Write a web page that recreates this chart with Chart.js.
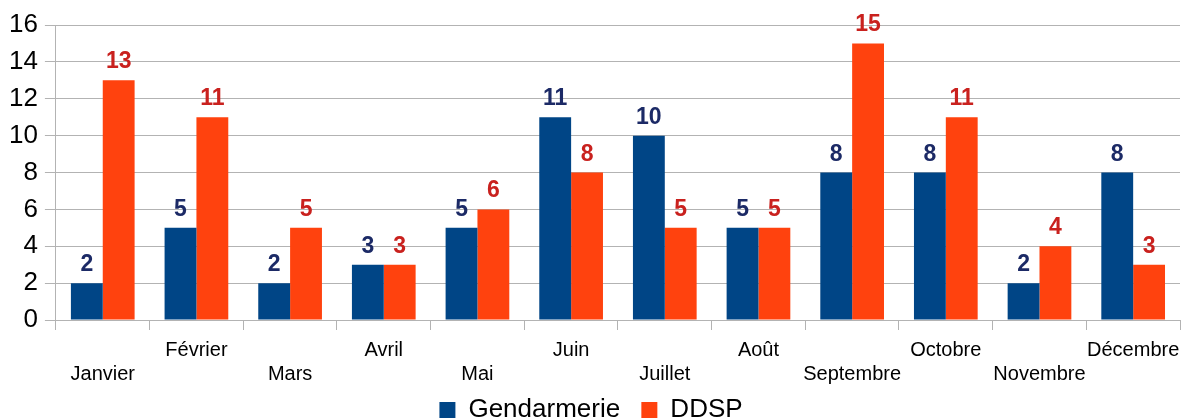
<!DOCTYPE html>
<html>
<head>
<meta charset="utf-8">
<script src="https://cdn.jsdelivr.net/npm/chart.js@4"></script>
<style>
  html, body { margin: 0; padding: 0; background: #fff; }
  #wrap { width: 1182px; height: 418px; }
</style>
</head>
<body>
<div id="wrap"><canvas id="myChart"></canvas></div>
<script>
let months = ["Janvier", "Février", "Mars", "Avril", "Mai", "Juin", "Juillet", "Août", "Septembre", "Octobre", "Novembre", "Décembre"];
let gendarmerie = [2, 5, 2, 3, 5, 11, 10, 5, 8, 8, 2, 8];
let ddsp = [13, 11, 5, 3, 6, 8, 5, 5, 15, 11, 4, 3];
let yTicks = [0, 2, 4, 6, 8, 10, 12, 14, 16];

let labelColors = ["#1c2a66", "#c9211e"];

// draw the value above each bar
let valueLabels = {
    id: "valueLabels",
    afterDatasetsDraw(chart) {
        let ctx = chart.ctx;
        ctx.save();
        ctx.font = "bold 23px 'Liberation Sans'";
        ctx.textAlign = "center";
        ctx.textBaseline = "alphabetic";
        chart.data.datasets.forEach(function (ds, i) {
            ctx.fillStyle = labelColors[i];
            chart.getDatasetMeta(i).data.forEach(function (bar, j) {
                ctx.fillText(ds.data[j], bar.x, bar.y - 12);
            });
        });
        ctx.restore();
    }
};

Chart.defaults.font.family = "'Liberation Sans', Arial, sans-serif";
Chart.defaults.color = "#000";

let chart = new Chart("myChart", {
    type: "bar",
    data: {
        labels: months,
        datasets: [{
            label: "Gendarmerie",
            backgroundColor: "#004586",
            data: gendarmerie
        }, {
            label: "DDSP",
            backgroundColor: "#ff420e",
            data: ddsp
        }]
    },
    options: {
        responsive: true,
        maintainAspectRatio: false,
        animation: false,
        layout: { padding: { top: 25, right: 2, left: 2, bottom: -15 } },
        datasets: {
            bar: { categoryPercentage: 0.68, barPercentage: 1 }
        },
        plugins: {
            legend: {
                position: "bottom",
                labels: {
                    font: { size: 26 },
                    boxWidth: 16,
                    boxHeight: 16,
                    padding: 3,
                    generateLabels: function (c) {
                        let items = Chart.defaults.plugins.legend.labels.generateLabels(c);
                        // widen the gap between the two entries
                        items[0].text = items[0].text + "\u2002\u2009";
                        return items;
                    }
                }
            },
            tooltip: { enabled: false }
        },
        scales: {
            x: {
                afterFit: function (s) {
                    s.paddingLeft = 0;
                    s.paddingRight = 0;
                },
                grid: {
                    offset: true,
                    color: function (c) {
                        return (c.index === 0 || c.index === months.length) ? "#b3b3b3" : "rgba(0,0,0,0)";
                    },
                    tickColor: "#b3b3b3",
                    tickLength: 10,
                    lineWidth: 1
                },
                border: { display: false },
                ticks: {
                    autoSkip: false,
                    maxRotation: 0,
                    font: { size: 20, lineHeight: 1.2 },
                    padding: 8,
                    callback: function (v, i) {
                        return i % 2 === 0 ? ["", months[i]] : [months[i]];
                    }
                }
            },
            y: {
                min: 0,
                max: 16,
                afterFit: function (s) {
                    s.paddingTop = 0;
                },
                afterBuildTicks: function (axis) {
                    axis.ticks = yTicks.map(function (v) { return { value: v }; });
                },
                grid: {
                    color: "#b3b3b3",
                    tickColor: "#b3b3b3",
                    tickLength: 11
                },
                border: { color: "#b3b3b3" },
                ticks: {
                    font: { size: 26 },
                    padding: 7
                }
            }
        }
    },
    plugins: [valueLabels]
});
</script>
</body>
</html>
